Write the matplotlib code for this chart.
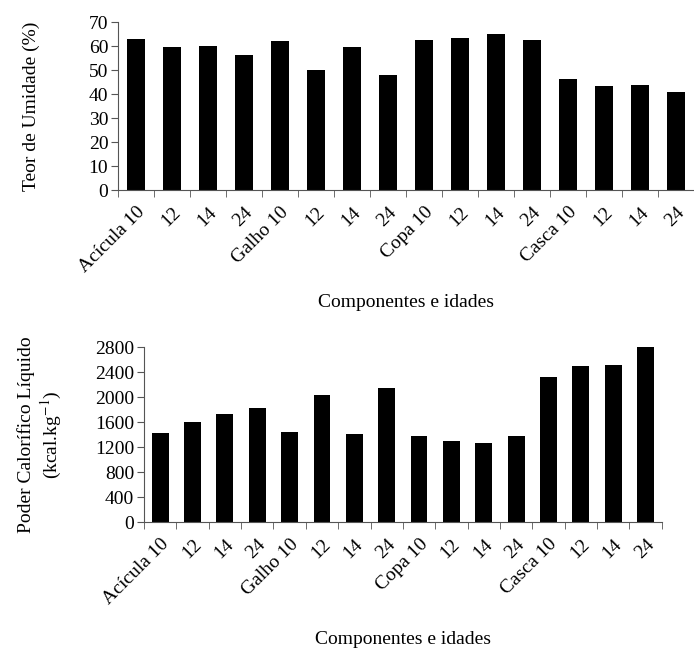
import matplotlib.pyplot as plt
import numpy as np

plt.rcParams['font.family'] = ['Liberation Serif', 'DejaVu Serif']
plt.rcParams['mathtext.fontset'] = 'stix'

categorias = ['Acícula 10', '12', '14', '24', 'Galho 10', '12', '14', '24',
              'Copa 10', '12', '14', '24', 'Casca 10', '12', '14', '24']
umidade = [63, 59.5, 60, 56.5, 62, 50, 59.5, 48,
           62.5, 63.5, 65, 62.5, 46.5, 43.5, 44, 41]
poder_calorifico = [1420, 1600, 1730, 1820, 1440, 2030, 1410, 2140,
                    1370, 1300, 1270, 1380, 2320, 2490, 2510, 2800]


def plot_bars(ax, values, ymax, step, ylabel, width):
    x = np.arange(len(values))
    ax.bar(x, values, width=width, color='black')
    ax.set_xlim(-0.5, len(values) - 0.5)
    ax.set_ylim(0, ymax)
    ax.set_yticks(np.arange(0, ymax + 1, step))
    ax.set_xticks(x)
    ax.set_xticklabels(categorias, rotation=45, ha='right',
                       rotation_mode='anchor')
    ax.set_xticks(np.arange(-0.5, len(values), 1), minor=True)
    ax.tick_params(axis='x', which='major', length=0, pad=10, labelsize=14)
    ax.tick_params(axis='x', which='minor', length=5, direction='out',
                   color='#555555')
    ax.tick_params(axis='y', length=5, direction='out', color='#555555',
                   labelsize=14, pad=2)
    for s in ['top', 'right']:
        ax.spines[s].set_visible(False)
    for s in ['left', 'bottom']:
        ax.spines[s].set_color('#555555')
    ax.set_xlabel('Componentes e idades', fontsize=14, va='center')
    ax.set_ylabel(ylabel, fontsize=14)
    ax.xaxis.set_label_coords(0.5, -0.673)


fig = plt.figure(figsize=(6.94, 6.53), dpi=100)

ax1 = fig.add_axes([0.170, 0.709, 0.830, 0.257])
plot_bars(ax1, umidade, 70, 10, 'Teor de Umidade (%)', 0.48)
ax1.yaxis.set_label_coords(-0.135, 0.5)

ax2 = fig.add_axes([0.2075, 0.2006, 0.746, 0.268])
plot_bars(ax2, poder_calorifico, 2800, 400,
          'Poder Calorífico Líquido\n(kcal.kg$^{-1}$)', 0.52)
ax2.yaxis.set_label_coords(-0.155, 0.5)

fig.savefig('out.png', dpi=100)
